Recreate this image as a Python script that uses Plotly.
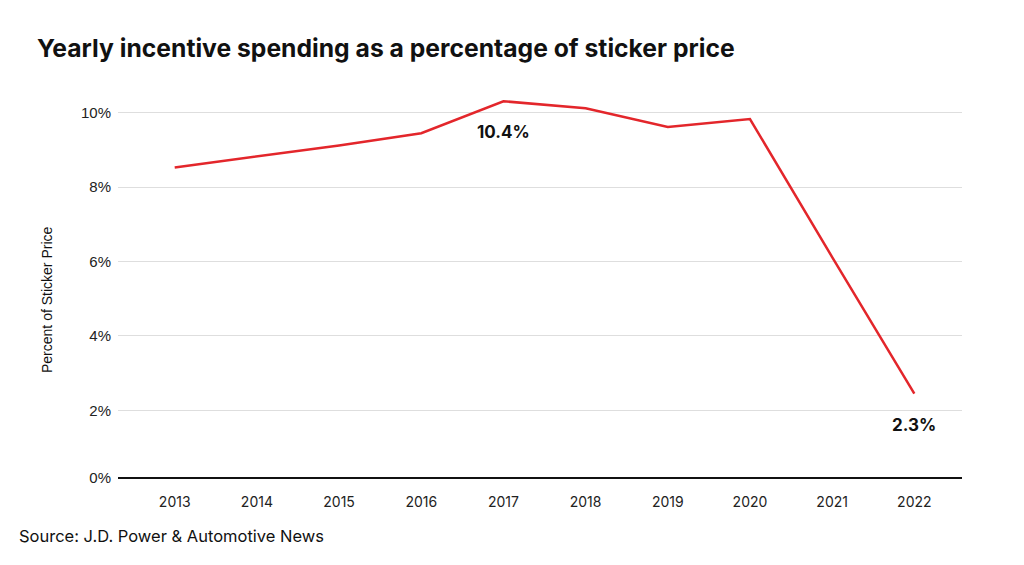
import plotly.graph_objects as go

# data
years = [2013, 2014, 2015, 2016, 2017, 2018, 2019, 2020, 2021, 2022]
incentive_pct = [8.53, 8.82, 9.12, 9.45, 10.31, 10.12, 9.62, 9.83, 6.12, 2.45]

label_years = [2017, 2022]
label_values = [10.31, 2.45]
label_texts = ["10.4%", "2.3%"]

tick_vals = [0.18, 2, 4, 6, 8, 10]
tick_text = ["0%", "2%", "4%", "6%", "8%", "10%"]

title_font = "Inter, Roboto, sans-serif"
plain_font = "Liberation Sans, Arial, sans-serif"

fig = go.Figure()

fig.add_trace(go.Scatter(x=years, y=incentive_pct, mode='lines',
                         line=dict(color='#e3262b', width=2.5),
                         hoverinfo='skip', showlegend=False))

for yr, val, txt in zip(label_years, label_values, label_texts):
    fig.add_annotation(x=yr, y=val, text=f"<b>{txt}</b>", showarrow=False,
                       yshift=-31, font=dict(family=title_font, size=17, color='#111111'))

# page body adds an 8px offset, so the margins are shifted by that much
fig.update_layout(
    width=1024, height=565,
    margin=dict(l=110, r=70, t=75, b=95),
    paper_bgcolor='white', plot_bgcolor='white',
    title=dict(text="<b>Yearly incentive spending as a percentage of sticker price</b>",
               x=29/1024, xanchor='left', y=1-40/565, yanchor='middle',
               font=dict(family=title_font, size=24.7, color='#111111')),
)

fig.update_xaxes(range=[2012.31, 2022.58], tickvals=years, ticks='',
                 showgrid=False, zeroline=False, showline=False, ticklabelstandoff=14,
                 tickfont=dict(family=title_font, size=14, color='#222222'))

fig.update_yaxes(range=[0.18, 10.8], tickvals=tick_vals, ticktext=tick_text,
                 showgrid=True, gridcolor='#dedede', gridwidth=1,
                 zeroline=False, showline=False, ticks='', ticklabelstandoff=6,
                 tickfont=dict(family=plain_font, size=15, color='#222222'))

# black baseline at the bottom of the plot
fig.add_shape(type='line', xref='paper', yref='paper', x0=0, x1=1, y0=0, y1=0,
              line=dict(color='#111111', width=2))

fig.add_annotation(text="Percent of Sticker Price", xref='paper', yref='paper',
                   x=-(118-47)/844, y=(478-300)/395, textangle=-90, showarrow=False,
                   xanchor='center', yanchor='middle',
                   font=dict(family=plain_font, size=14, color='#111111'))

fig.add_annotation(text="Source: J.D. Power & Automotive News", xref='paper', yref='paper',
                   x=-(118-17)/844, y=-(536-478)/395, xanchor='left', yanchor='middle',
                   showarrow=False,
                   font=dict(family=title_font, size=16.5, color='#111111'))

fig.write_html("out.html")
